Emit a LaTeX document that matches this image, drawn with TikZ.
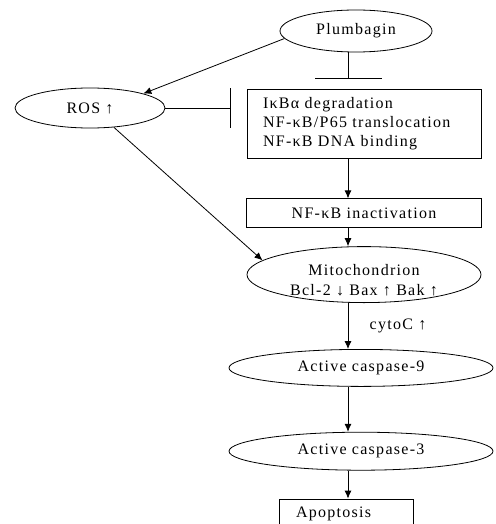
\documentclass[tikz,border=0pt]{standalone}
\usepackage{fontspec}
\setmainfont[LetterSpace=8]{Liberation Serif}
\usetikzlibrary{calc,positioning,shapes.geometric,arrows.meta}
\tikzset{>={Latex[length=8pt,width=7pt]}}
\tikzset{
  oval/.style={draw, ellipse, inner sep=0pt},
  stepbox/.style={draw, rectangle, inner ysep=3pt},
  txt/.style={font=\fontsize{16}{20}\selectfont},
}

\begin{document}
\begin{tikzpicture}[x=1pt, y=1pt, line width=0.8pt, every node/.append style={txt}]
      \useasboundingbox (0,0) rectangle (495,-524);
      \coordinate (axis) at (348,0);

      \node [oval,
        minimum width=152pt, minimum height=42pt
      ] (plumbagin) at (356,-31) {Plumbagin};
      \node [oval,
        minimum width=150pt, minimum height=40pt
      ] (ros) at (90,-108) {ROS ↑};
      \node [stepbox,
        text width=202pt, inner xsep=16pt, minimum height=69pt, align=left,
        font=\fontsize{16}{19}\selectfont
      ] (steps) at (364,-123.5) {IκBα degradation\\NF-κB/P65 translocation\\NF-κB DNA binding};
      \node [stepbox,
        minimum width=235pt, minimum height=29pt,
        below=40pt of steps
      ] (nfkb) {NF-κB inactivation};
      \node [oval,
        minimum width=234pt, minimum height=56pt,
        below=18pt of nfkb
      ] (mito) {};
      \node [align=center, yshift=-6pt] (mitotext) at (mito.center) {Mitochondrion\\Bcl-2 ↓ Bax ↑ Bak ↑};
      \node [oval,
        minimum width=264pt, minimum height=37pt,
        below=46pt of mito, xshift=-3pt
      ] (casp9) {Active caspase-9};
      \node [oval,
        minimum width=264pt, minimum height=38pt,
        below=45pt of casp9
      ] (casp3) {Active caspase-3};
      \node [stepbox,
        text width=100pt, inner xsep=17pt, minimum height=30pt, align=left,
        below=28pt of casp3, xshift=-15pt
      ] (apop) {Apoptosis};

      \coordinate (pbar) at ($(steps.north -| axis)+(0,10)$);
      \coordinate (rosbar) at ($(ros.east -| steps.west)+(-16,0)$);

      \draw[->] (plumbagin.186) -- (ros.north east);
      \draw[-{Bar[width=67pt]}] (plumbagin.south -| axis) -- (pbar);
      \draw[-{Bar[width=39pt]}] (ros.east) -- (rosbar);
      \draw[->] (ros.-39) -- (mito.172);
      \draw[->] (steps.south -| axis) -- (nfkb.north -| axis);
      \draw[->] (nfkb.south -| axis) -- (mito.north -| axis);
      \draw[->] (mito.south -| axis) -- (casp9.north -| axis)
        node [midway, right=18pt] (cytoc) {cytoC ↑};
      \draw[->] (casp9.south -| axis) -- (casp3.north -| axis);
      \draw[->] (casp3.south -| axis) -- (apop.north -| axis);
    \end{tikzpicture}
\end{document}
